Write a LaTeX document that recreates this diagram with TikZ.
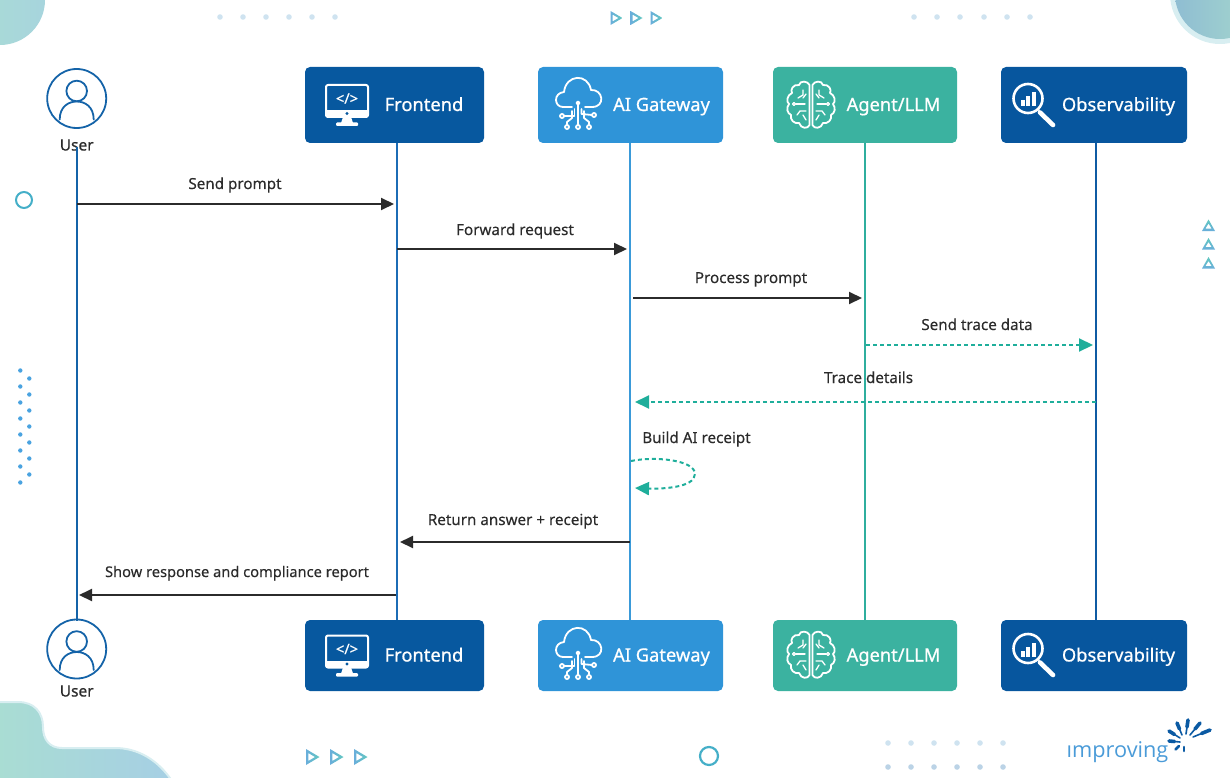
\documentclass[tikz,border=0pt]{standalone}
\usepackage{fontspec}
\setmainfont{Noto Sans}
\newfontfamily\logofont{Open Sans}
\newfontfamily\titlefont[FakeBold=0.7]{Noto Sans}
\newfontfamily\msgfont[FakeBold=0.25]{Noto Sans}
\usetikzlibrary{arrows.meta,calc}
\definecolor{cFront}{HTML}{07589F}
\definecolor{cGate}{HTML}{2F94D8}
\definecolor{cAgent}{HTML}{3BB2A0}
\definecolor{cObs}{HTML}{07569E}
\definecolor{lUser}{HTML}{1463A8}
\definecolor{lFront}{HTML}{1C6CB5}
\definecolor{lGate}{HTML}{3A9AD9}
\definecolor{lAgent}{HTML}{2FAE9E}
\definecolor{lObs}{HTML}{0F5BA3}
\definecolor{ink}{HTML}{2B2B2B}
\definecolor{trace}{HTML}{1FAE9B}
\definecolor{paleDot}{HTML}{CFE3F0}
\definecolor{greyDot}{HTML}{BBD3E6}
\definecolor{sideDot}{HTML}{4AA3E0}
\definecolor{blobTeal}{HTML}{A9DDD3}
\definecolor{blobBlue}{HTML}{A6CFE4}
\definecolor{blobEdge}{HTML}{D8EEF1}
\definecolor{ballBlue}{HTML}{8FBDD2}
\definecolor{ballTeal}{HTML}{A6D9CD}
\definecolor{triBlue}{HTML}{6AAEDB}
\definecolor{triTeal}{HTML}{62C8C0}
\definecolor{ringC}{HTML}{45AFC8}
\definecolor{logoB}{HTML}{4A9BD8}
\definecolor{logoD}{HTML}{0B5AA3}
\newcommand\brainhalfcode{%
    \draw[iconline] (-1.5,-20) .. controls (-3,-24) and (-11,-25) .. (-12,-20)
      .. controls (-18,-21) and (-21,-15) .. (-19,-12)
      .. controls (-24,-10) and (-25,-3) .. (-22,-1)
      .. controls (-25,3) and (-24,8) .. (-20,10)
      .. controls (-21,15) and (-17,19) .. (-12,18)
      .. controls (-10,24) and (-3,24) .. (-1.5,20) -- cycle;
    \draw[iconline,line width=1.3pt] (-8,-15) -- (-8,-10) -- (-13,-7);
    \draw[iconline,line width=1.3pt] (-5,-11) -- (-8,-7);
    \draw[iconline,line width=1.3pt] (-15,-1) -- (-6,-1);
    \draw[iconline,line width=1.3pt] (-17,-1) circle (1.5);
    \draw[iconline,line width=1.3pt] (-5,6) -- (-11,6) -- (-14,10);
    \draw[iconline,line width=1.3pt] (-5,15) -- (-8,10);
}
\tikzset{
  x=1pt,y=-1pt,
  boxnode/.style={rectangle,rounded corners=5pt,minimum height=#1,inner sep=0pt,outer sep=0pt},
  boxlabel/.style={text=white,font=\titlefont\fontsize{18.3}{20}\selectfont,inner sep=0pt,anchor=base},
  msg/.style={text=ink,font=\msgfont\fontsize{15.2}{17}\selectfont,inner sep=0pt,anchor=base},
  userlabel/.style={text=ink,font=\titlefont\fontsize{15.5}{18}\selectfont,inner sep=0pt,anchor=base},
  usercircle/.style={circle,draw=lUser,line width=1.8pt,minimum size=59pt,inner sep=0pt,outer sep=0pt},
  life/.style={line width=2pt},
  solidmsg/.style={draw=ink,line width=2pt,-{Triangle[length=13pt,width=12pt]}},
  tracemsg/.style={draw=trace,line width=2pt,dash pattern=on 4pt off 3pt,-{Triangle[length=14pt,width=13pt,fill=trace]}},
  iconline/.style={draw=white,line width=1.8pt,line cap=round,line join=round},
  person/.pic={
    \draw[lUser,line width=1.8pt] (0,-7.5) circle (10.3);
    \draw[lUser,line width=1.8pt,line cap=round] (-17,21) .. controls (-17,8) and (-8,3) .. (0,3) .. controls (8,3) and (17,8) .. (17,21);
  },
  monitor/.pic={
    \draw[iconline,line width=2pt,rounded corners=2pt] (-21,-20) rectangle (21,12);
    \fill[white] (-21,5) rectangle (21,12);
    \fill[cFront] (0,8.5) circle (1.6);
    \fill[white] (-4,12) -- (4,12) -- (6,18) -- (-6,18) -- cycle;
    \fill[white,rounded corners=1pt] (-11,17.5) rectangle (11,21);
    \node[text=white,font=\titlefont\fontsize{14.5}{16}\selectfont,inner sep=0pt] at (0,-6.5) {</>};
  },
  cloudicon/.pic={
    \draw[iconline] (-6,2) -- (-15,2) .. controls (-24,2) and (-25,-12) .. (-14,-13)
      .. controls (-12,-31) and (10,-32) .. (13,-15) .. controls (25,-16) and (28,2) .. (14,2) -- (7,2);
    \draw[iconline] (0,0) -- (0,20);
    \draw[iconline] (0,-2) circle (1.6);
    \draw[iconline] (0,22) circle (2);
    \draw[iconline] (-6,6) -- (-6,13) -- (-11,17) -- (-11,20);
    \draw[iconline] (-11,22) circle (2);
    \draw[iconline] (6,6) -- (6,13) -- (11,17) -- (11,20);
    \draw[iconline] (11,22) circle (2);
    \draw[iconline] (-3.5,4) -- (-3.5,11) -- (-14,11);
    \draw[iconline] (-16,11) circle (2);
    \draw[iconline] (3.5,4) -- (3.5,9) -- (14,10);
    \draw[iconline] (16,10) circle (2);
  },
  brain/.pic={
    \brainhalfcode
    \begin{scope}[xscale=-1]\brainhalfcode\end{scope}
  },
  magnifier/.pic={
    \draw[white,line width=2.6pt] (0,0) circle (14.5);
    \draw[white,line width=4.6pt,line cap=round] (12,14) -- (25,26.5);
    \draw[white,line width=1.2pt] (10,10) -- (12,14);
    \fill[white] (-7.5,2) rectangle (-3.5,8);
    \fill[white] (-2,-2) rectangle (2.2,8);
    \fill[white] (3.7,-6) rectangle (8,8);
  },
  triright/.pic={
    \shade[left color=triBlue,right color=triTeal,even odd rule] (0,-8) -- (13.5,0) -- (0,8) -- cycle (2.3,-4) -- (2.3,4) -- (9,0) -- cycle;
  },
  trismall/.pic={
    \shade[left color=triBlue,right color=triTeal,even odd rule] (0,-7) -- (12,0) -- (0,7) -- cycle (2,-3.5) -- (2,3.5) -- (8,0) -- cycle;
  },
  triup/.pic={
    \shade[top color=triTeal,bottom color=triBlue,even odd rule] (0,-6) -- (6.5,5.5) -- (-6.5,5.5) -- cycle (0,-2) -- (-3.2,3.2) -- (3.2,3.2) -- cycle;
  },
}
\begin{document}
\begin{tikzpicture}
\useasboundingbox (0,0) rectangle (1230,778);
% background decoration
\begin{scope}
\clip (0,0) rectangle (1230,778);
\shade[left color=blobTeal,right color=blobBlue!60!blobTeal] (0,0) circle (45);
\fill[blobEdge] (1220,-6) circle (50);
\shade[left color=ballBlue,right color=ballTeal] (1220,-6) circle (45);
\shade[left color=blobTeal,right color=blobBlue,draw=blobEdge,line width=2pt]
  (-3,702) -- (18,702) .. controls (34,702) and (43,712) .. (43,727)
  .. controls (43,740) and (50,748) .. (62,748) -- (115,748)
  .. controls (138,748) and (158,760) .. (172,781) -- (-3,781) -- cycle;
\end{scope}
\foreach \i in {220,243,266,289,312,335} \fill[paleDot] (\i,17) circle (2.8);
\foreach \i in {914,937,960,984,1007,1030} \fill[paleDot] (\i,17) circle (2.8);
\foreach \i in {888,911,934,957,980,1003} {\fill[paleDot] (\i,743) circle (2.8); \fill[greyDot] (\i,767) circle (2.8);}
\foreach \i in {0,...,7} \fill[sideDot] (20.3,370.5+16*\i) circle (2.2);
\foreach \i in {0,...,6} \fill[sideDot] (29.3,378.5+16*\i) circle (2.2);
\pic at (610.5,18) {trismall};
\pic at (630.5,18) {trismall};
\pic at (650.5,18) {trismall};
\pic at (306,757) {triright};
\pic at (330,757) {triright};
\pic at (354,757) {triright};
\pic at (1208.5,225.5) {triup};
\pic at (1208.5,244) {triup};
\pic at (1208.5,263) {triup};
\node[circle,draw=ringC,line width=2pt,minimum size=16pt,inner sep=0pt] (ringa) at (24,200) {};
\node[circle,draw=ringC,line width=2.2pt,minimum size=18pt,inner sep=0pt] (ringb) at (709,756) {};
% participants
\node[usercircle] (u) at (76.7,98.5) {};
\node[userlabel] (ul) at (76.7,150.5) {User};
\node[usercircle] (ub) at (76.7,649) {};
\node[userlabel] (ubl) at (76.7,696.5) {User};
\node[boxnode=76pt,fill=cFront,minimum width=179pt] (fe) at (394.5,105) {};
\node[boxnode=76pt,fill=cGate,minimum width=185pt] (gw) at (630.5,105) {};
\node[boxnode=76pt,fill=cAgent,minimum width=184pt] (ag) at (865,105) {};
\node[boxnode=76pt,fill=cObs,minimum width=186pt] (ob) at (1094,105) {};
\node[boxnode=71pt,fill=cFront,minimum width=179pt] (feb) at (394.5,655.5) {};
\node[boxnode=71pt,fill=cGate,minimum width=185pt] (gwb) at (630.5,655.5) {};
\node[boxnode=71pt,fill=cAgent,minimum width=184pt] (agb) at (865,655.5) {};
\node[boxnode=71pt,fill=cObs,minimum width=186pt] (obb) at (1094,655.5) {};
% lifelines
\draw[life,lUser] ([xshift=0.3pt,yshift=4pt]ul.south) -- ([xshift=0.3pt,yshift=-1pt]ub.north);
\draw[life,lFront] ([xshift=2.5pt]fe.south) -- ([xshift=2.5pt]feb.north);
\draw[life,lGate] ([xshift=-0.5pt]gw.south) -- ([xshift=-0.5pt]gwb.north);
\draw[life,lAgent] (ag.south) -- (agb.north);
\draw[life,lObs] ([xshift=2pt]ob.south) -- ([xshift=2pt]obb.north);
% icons and titles
\pic at (76.7,98.5) {person};
\pic at (76.7,649) {person};
\pic at (347,105) {monitor};
\pic at (347,655.5) {monitor};
\pic at (578,105) {cloudicon};
\pic at (578,655) {cloudicon};
\pic at (811,105) {brain};
\pic at (811,655) {brain};
\pic at (1028,98.5) {magnifier};
\pic at (1028,648.5) {magnifier};
\node[boxlabel] (fet) at (424,111) {Frontend};
\node[boxlabel] (gwt) at (661.5,111) {AI Gateway};
\node[boxlabel] (agt) at (893.5,111) {Agent/LLM};
\node[boxlabel] (obt) at (1118.5,111) {Observability};
\node[boxlabel] (febt) at (424,661.5) {Frontend};
\node[boxlabel] (gwbt) at (661.5,661.5) {AI Gateway};
\node[boxlabel] (agbt) at (893.5,661.5) {Agent/LLM};
\node[boxlabel] (obbt) at (1118.5,661.5) {Observability};
% message end points on the lifelines
\coordinate (m1a) at (77,204);   \coordinate (m1b) at (394,204);
\coordinate (m2a) at (397,249);  \coordinate (m2b) at (627,249);
\coordinate (m3a) at (633,298);  \coordinate (m3b) at (862,298);
\coordinate (m4a) at (866,345);  \coordinate (m4b) at (1093,345);
\coordinate (m5a) at (1096,402); \coordinate (m5b) at (635,402);
\coordinate (m6a) at (631,461);  \coordinate (m6c) at (695,474); \coordinate (m6b) at (635,488);
\coordinate (m7a) at (630,542);  \coordinate (m7b) at (400,542);
\coordinate (m8a) at (396,595);  \coordinate (m8b) at (79,595);
% messages
\draw[solidmsg] (m1a) -- (m1b);
\draw[solidmsg] (m2a) -- (m2b);
\draw[solidmsg] (m3a) -- (m3b);
\draw[tracemsg] (m4a) -- (m4b);
\draw[tracemsg] (m5a) -- (m5b);
\draw[tracemsg] (m6a) .. controls (655,456) and (695,460) .. (m6c) .. controls (695,488) and (660,489) .. (m6b);
\draw[solidmsg] (m7a) -- (m7b);
\draw[solidmsg] (m8a) -- (m8b);
\node[msg] (l1) at (235,189) {Send prompt};
\node[msg] (l2) at (515,235) {Forward request};
\node[msg] (l3) at (751,283) {Process prompt};
\node[msg] (l4) at (977,330) {Send trace data};
\node[msg] (l5) at (868.5,383) {Trace details};
\node[msg] (l6) at (696.5,443) {Build AI receipt};
\node[msg] (l7) at (513,525) {Return answer + receipt};
\node[msg,font=\msgfont\fontsize{14.65}{17}\selectfont] (l8) at (237,577) {Show response and compliance report};
% logo
\node[text=logoB,font=\logofont\fontsize{21.7}{24}\selectfont,inner sep=0pt,anchor=base west] (logo) at (1066.5,757.5) {ımproving};
\foreach \ox/\oy/\ix/\iy in {1169/731/1180/738, 1177/723/1182/735, 1188/720/1186/734, 1200/723/1190/735, 1210/730/1193/737, 1169/741/1180/742} {
  \draw[logoD,line width=1.6pt,line cap=round] (\ix,\iy) -- (\ox,\oy);
  \draw[logoD,line width=3.6pt,line cap=round] ($(\ix,\iy)!0.5!(\ox,\oy)$) -- (\ox,\oy);
}
\draw[logoD,line width=2.6pt,line cap=round] (1175.5,749.5) -- (1179,746);
\draw[logoD,line width=2.6pt,line cap=round] (1184,751) -- (1184,747);
\end{tikzpicture}
\end{document}
